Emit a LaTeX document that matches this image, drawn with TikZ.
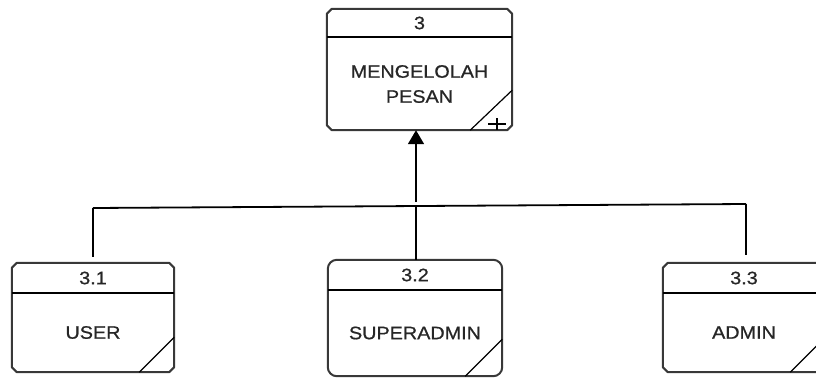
\documentclass[tikz,border=0pt]{standalone}
\usepackage{fontspec}
\setmainfont{Liberation Sans}[FakeStretch=1.1,FakeBold=0.8]
\usetikzlibrary{arrows.meta,calc}
\begin{document}
\begin{tikzpicture}[x=1pt,y=-1pt,
  area/.style={draw=none,inner sep=0pt,rectangle},
  boxline/.style={draw=black!78,line width=2pt,line join=round},
  hline/.style={draw=black,line width=1.5pt},
  conn/.style={draw=black,line width=1.8pt},
  txt/.style={inner sep=0pt,align=center,font=\fontsize{18}{25}\selectfont,text=black!85}]
\useasboundingbox (0,0) rectangle (816,378);
% areas
\node[area,minimum width=185pt,minimum height=121pt] (b3) at (419.5,69.5) {};
\node[area,minimum width=162pt,minimum height=109pt] (b31) at (93,317.5) {};
\node[area,minimum width=174pt,minimum height=116pt] (b32) at (415,318) {};
\node[area,minimum width=162pt,minimum height=109pt] (b33) at (744,317.5) {};
% chamfered outlines
\foreach \n in {b3,b31,b33}{
  \draw[boxline] ([xshift=5pt]\n.north west) -- ([xshift=-5pt]\n.north east)
    -- ([yshift=-5pt]\n.north east) -- ([yshift=5pt]\n.south east)
    -- ([xshift=-5pt]\n.south east) -- ([xshift=5pt]\n.south west)
    -- ([yshift=5pt]\n.south west) -- ([yshift=-5pt]\n.north west) -- cycle;
}
\draw[boxline,rounded corners=9pt] (b32.north west) rectangle (b32.south east);
% header lines
\draw[hline] ([yshift=-28pt]b3.north west) -- ([yshift=-28pt]b3.north east);
\draw[hline] ([yshift=-30pt]b31.north west) -- ([yshift=-30pt]b31.north east);
\draw[hline] ([yshift=-30pt]b32.north west) -- ([yshift=-30pt]b32.north east);
\draw[hline] ([yshift=-30pt]b33.north west) -- ([yshift=-30pt]b33.north east);
% corner diagonals
\draw[hline,line width=1.2pt] ([xshift=-42pt]b3.south east) -- ([yshift=40pt]b3.south east);
\draw[hline,line width=1.2pt] ([xshift=-35pt]b31.south east) -- ([yshift=35pt]b31.south east);
\draw[hline,line width=1.2pt] ([xshift=-37pt]b32.south east) -- ([yshift=37pt]b32.south east);
\draw[hline,line width=1.2pt] ([xshift=-35pt]b33.south east) -- ([yshift=35pt]b33.south east);
% plus sign
\draw[hline,line width=1.2pt] (488,124) -- (506,124) (497,118) -- (497,130);
% texts
\node[txt] (n3) at (419.5,23) {3};
\node[txt] (t3) at (419.5,84) {MENGELOLAH\\PESAN};
\node[txt] (n31) at (93,278) {3.1};
\node[txt] (t31) at (93,332.5) {USER};
\node[txt] (n32) at (415,275) {3.2};
\node[txt] (t32) at (415,333) {SUPERADMIN};
\node[txt] (n33) at (744,278) {3.3};
\node[txt] (t33) at (744,332.5) {ADMIN};
% connectors
\coordinate (jl) at (93,208);
\coordinate (jc) at (416,206);
\coordinate (jr) at (746,204);
\coordinate (ja) at (416,202);
\draw[conn] (jl) -- (jr);
\draw[conn,shorten <=6pt] (jl |- b31.north) -- (jl);
\draw[conn] (jc |- b32.north) -- (jc);
\draw[conn,shorten <=8pt] (jr |- b33.north) -- (jr);
\draw[conn,-{Triangle[length=14pt,width=16pt]}] (ja) -- (ja |- b3.south);
\end{tikzpicture}
\end{document}
